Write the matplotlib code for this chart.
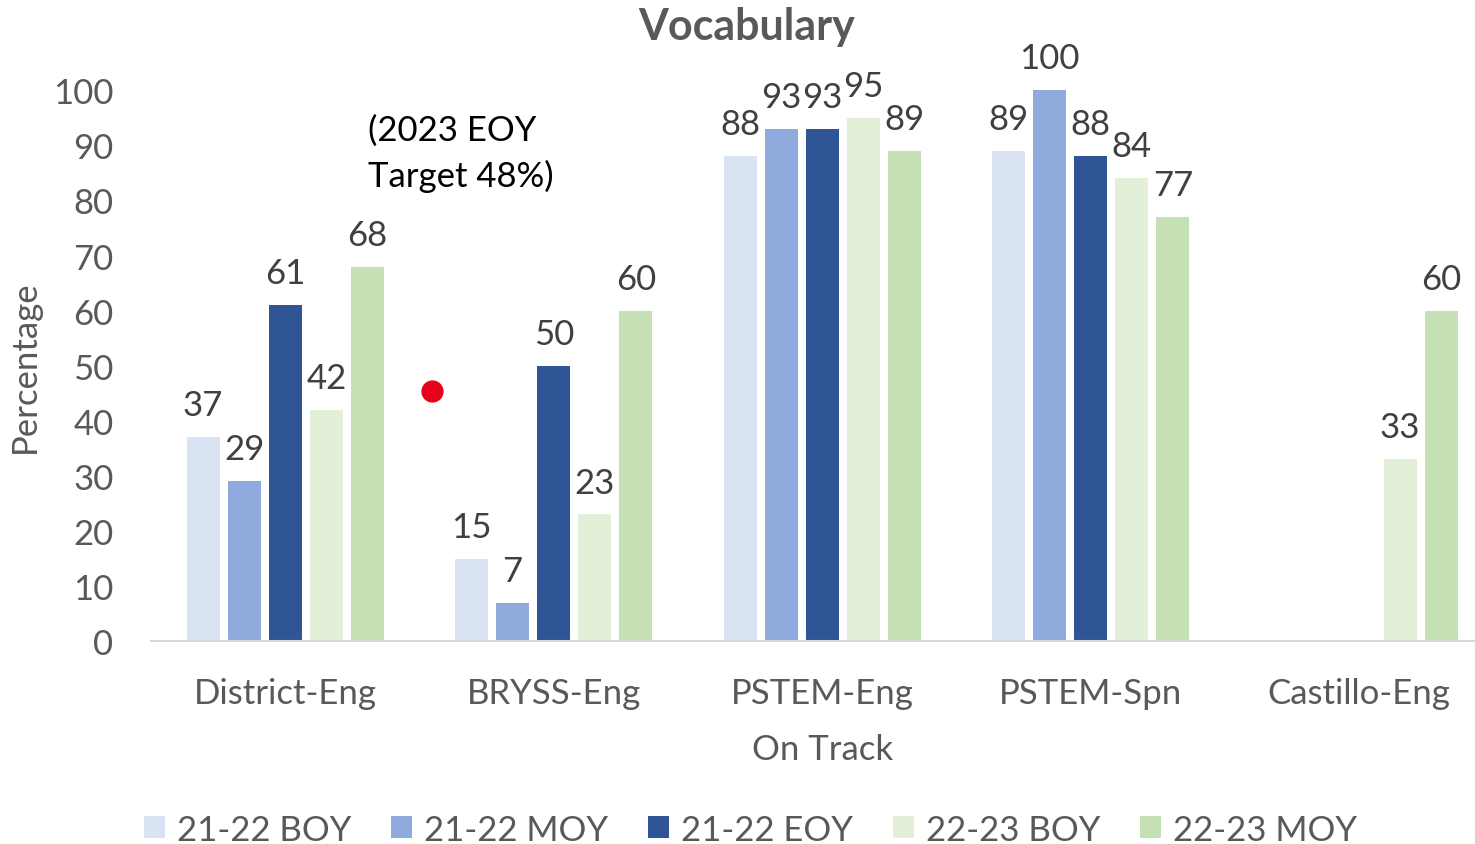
import numpy as np
import matplotlib.pyplot as plt

categories = ["District-Eng", "BRYSS-Eng", "PSTEM-Eng", "PSTEM-Spn", "Castillo-Eng"]
series_names = ["21-22 BOY", "21-22 MOY", "21-22 EOY", "22-23 BOY", "22-23 MOY"]
boy_2122 = [37, 15, 88, 89, np.nan]
moy_2122 = [29, 7, 93, 100, np.nan]
eoy_2122 = [61, 50, 93, 88, np.nan]
boy_2223 = [42, 23, 95, 84, 33]
moy_2223 = [68, 60, 89, 77, 60]
series = [boy_2122, moy_2122, eoy_2122, boy_2223, moy_2223]
colors = ["#dae3f3", "#8faadc", "#2f5597", "#e2f0d9", "#c5e0b4"]

target_x = 0.547
target_y = 45.5

plt.rcParams['font.family'] = ['Lato', 'DejaVu Sans']
gray = "#595959"
fs = 25

fig = plt.figure(figsize=(14.75, 8.45), dpi=100)
ax = fig.add_axes([0.1024, 0.240, 0.910, 0.652])

x = np.arange(len(categories))
step = 0.153
width = 0.123
for i, (vals, col, name) in enumerate(zip(series, colors, series_names)):
    pos = x + (i - 2) * step
    ax.bar(pos, vals, width, color=col, label=name)
    for p, v in zip(pos, vals):
        if not np.isnan(v):
            ax.text(p, v + 5.8, f"{v:g}", ha="center", va="center",
                    fontsize=fs, color="#404040", clip_on=False)

ax.plot([target_x], [target_y], "o", color="#e8001c", markersize=15, zorder=5)
ax.text(0.308, 95.8, "(2023 EOY\nTarget 48%)", fontsize=fs, color="black",
        va="top", ha="left", linespacing=1.5)

ax.set_xlim(-0.5, 4.5)
ax.set_ylim(0, 100)
ax.set_yticks(range(0, 101, 10))
ax.set_xticks(x)
ax.set_xticklabels(categories)
ax.tick_params(axis="both", length=0, labelsize=fs, colors=gray)
ax.tick_params(axis="x", pad=26)
ax.tick_params(axis="y", pad=27)
for s in ["top", "right", "left"]:
    ax.spines[s].set_visible(False)
ax.spines["bottom"].set_color("#d9d9d9")
ax.spines["bottom"].set_linewidth(1.5)

ax.set_xlabel("On Track", fontsize=fs, color=gray, labelpad=17)
ax.set_ylabel("Percentage", fontsize=fs, color=gray, va="center")
ax.yaxis.set_label_coords(-0.094, 0.5)
fig.text(0.506, 0.968, "Vocabulary", fontsize=31, fontweight="bold",
         color=gray, ha="center", va="center")

fig.legend(loc="center", ncol=5, frameon=False, fontsize=fs,
           bbox_to_anchor=(0.509, 0.017), handlelength=0.6, handleheight=0.6,
           handletextpad=0.35, columnspacing=1.15, labelcolor=gray)

fig.savefig("out.png", dpi=100)
